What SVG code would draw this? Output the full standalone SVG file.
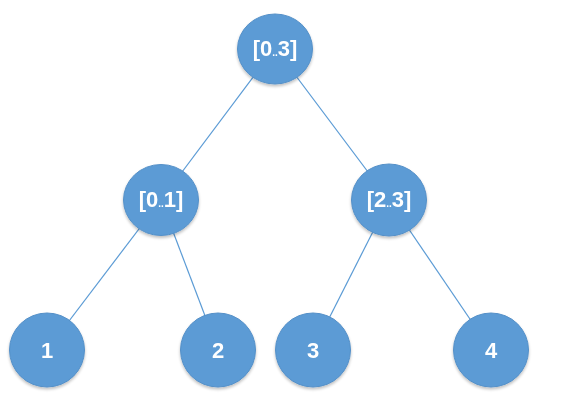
<svg xmlns="http://www.w3.org/2000/svg" width="561" height="407" viewBox="0 0 561 407">
<defs>
<style>
.n{fill:#5B9BD5;stroke:#5590c8;stroke-width:1}
.t{fill:#fff;font-family:"Liberation Sans","DejaVu Sans",sans-serif;font-weight:bold;font-size:22px;text-anchor:middle}
.d{font-size:10px}
.e{stroke:#5B9BD5;stroke-width:1.2;fill:none}
</style>
<filter id="sh" x="-20%" y="-20%" width="140%" height="150%">
<feGaussianBlur in="SourceAlpha" stdDeviation="1.5"/>
<feOffset dy="2"/>
<feComponentTransfer><feFuncA type="linear" slope="0.25"/></feComponentTransfer>
<feMerge><feMergeNode/><feMergeNode in="SourceGraphic"/></feMerge>
</filter>
</defs>
<rect width="561" height="407" fill="#fff"/>
<g id="edges">
<line class="e" x1="275" y1="48" x2="161" y2="200"/>
<line class="e" x1="275" y1="48" x2="389" y2="200"/>
<line class="e" x1="161" y1="200" x2="47" y2="350"/>
<line class="e" x1="161" y1="200" x2="218" y2="350"/>
<line class="e" x1="389" y1="200" x2="313" y2="350"/>
<line class="e" x1="389" y1="200" x2="491" y2="350"/>
</g>
<g id="n03" filter="url(#sh)"><ellipse class="n" cx="275" cy="49" rx="37.5" ry="35"/><text class="t" x="275" y="56">[0<tspan class="d">..</tspan>3]</text></g>
<g id="n01" filter="url(#sh)"><ellipse class="n" cx="161" cy="200" rx="37.5" ry="35.5"/><text class="t" x="161" y="207">[0<tspan class="d">..</tspan>1]</text></g>
<g id="n23" filter="url(#sh)"><ellipse class="n" cx="389" cy="200" rx="37.5" ry="36"/><text class="t" x="389" y="207">[2<tspan class="d">..</tspan>3]</text></g>
<g id="n1" filter="url(#sh)"><ellipse class="n" cx="47" cy="350" rx="37.5" ry="37"/><text class="t" x="47" y="358">1</text></g>
<g id="n2" filter="url(#sh)"><ellipse class="n" cx="218" cy="350" rx="37.5" ry="37"/><text class="t" x="218" y="358">2</text></g>
<g id="n3" filter="url(#sh)"><ellipse class="n" cx="313" cy="350" rx="37.5" ry="37"/><text class="t" x="313" y="358">3</text></g>
<g id="n4" filter="url(#sh)"><ellipse class="n" cx="491" cy="350" rx="37.5" ry="37"/><text class="t" x="491" y="358">4</text></g>
</svg>
